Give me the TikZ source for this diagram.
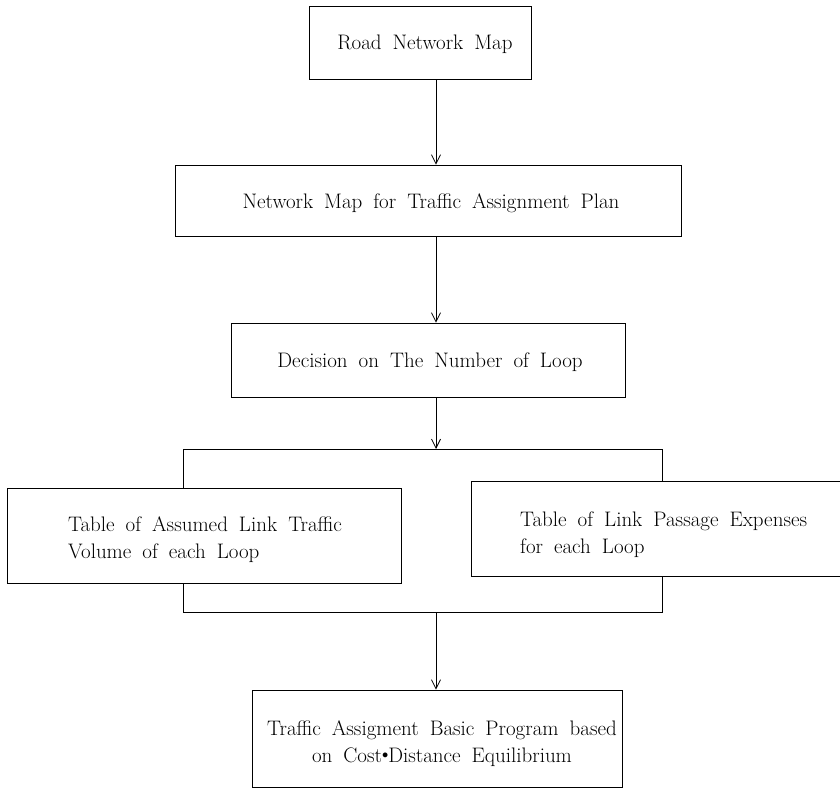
\documentclass[tikz,border=0pt]{standalone}
\usepackage{fontspec}
\usetikzlibrary{arrows.meta}
\newcommand\flowfont{\fontsize{21}{27}\selectfont\addfontfeature{LetterSpace=6.5}\spaceskip=11pt plus 2pt}
\newcommand\middot{\raisebox{0.45ex}{\scalebox{0.6}{$\bullet$}}}
\begin{document}
\begin{tikzpicture}[x=1pt,y=-1pt,
  box/.style={draw, line width=0.9pt, inner sep=0pt},
  txt/.style={font=\flowfont, inner sep=0pt},
  arr/.style={-{Straight Barb[length=9pt,width=9pt]}, line width=0.8pt},
  link/.style={line width=0.9pt}]
\useasboundingbox (0,0) rectangle (840,790);
\clip (0,0) rectangle (840,790);

% column of arrows
\coordinate (ax) at (436,0);

% boxes
\node[box, minimum width=222, minimum height=73] (road) at (420,42.5) {};
\node[txt] at (425,44) {Road Network Map};

\node[box, minimum width=506, minimum height=71] (net) at (428,200.5) {};
\node[txt] at (431,203) {Network Map for Traffic Assignment Plan};

\node[box, minimum width=394, minimum height=74] (dec) at (428,360) {};
\node[txt] at (430,362) {Decision on The Number of Loop};

\node[box, minimum width=394, minimum height=95] (vol) at (204,535.5) {};
\node[txt, anchor=west, align=left] at (68,540) {Table of Assumed Link Traffic\\Volume of each Loop};

\node[box, minimum width=400, minimum height=95] (exp) at (671,528.5) {};
\node[txt, anchor=west, align=left] at (520,535) {Table of Link Passage Expenses\\for each Loop};

\node[box, minimum width=370, minimum height=97] (prog) at (437,738.5) {};
\node[txt, align=center] at (442,744) {Traffic Assigment Basic Program based\\on Cost\middot Distance Equilibrium};

% bracket junctions
\coordinate (splitL) at (183,449);
\coordinate (splitR) at (662,449);
\coordinate (joinL) at (183,612);
\coordinate (joinR) at (662,612);

% connectors
\draw[arr] (road.south -| ax) -- (net.north -| ax);
\draw[arr] (net.south -| ax) -- (dec.north -| ax);
\draw[arr] (dec.south -| ax) -- (splitL -| ax);
\draw[link] (vol.north -| splitL) -- (splitL) -- (splitR) -- (exp.north -| splitR);
\draw[link] (vol.south -| joinL) -- (joinL) -- (joinR) -- (exp.south -| joinR);
\draw[arr] (joinL -| ax) -- (prog.north -| ax);
\end{tikzpicture}
\end{document}
